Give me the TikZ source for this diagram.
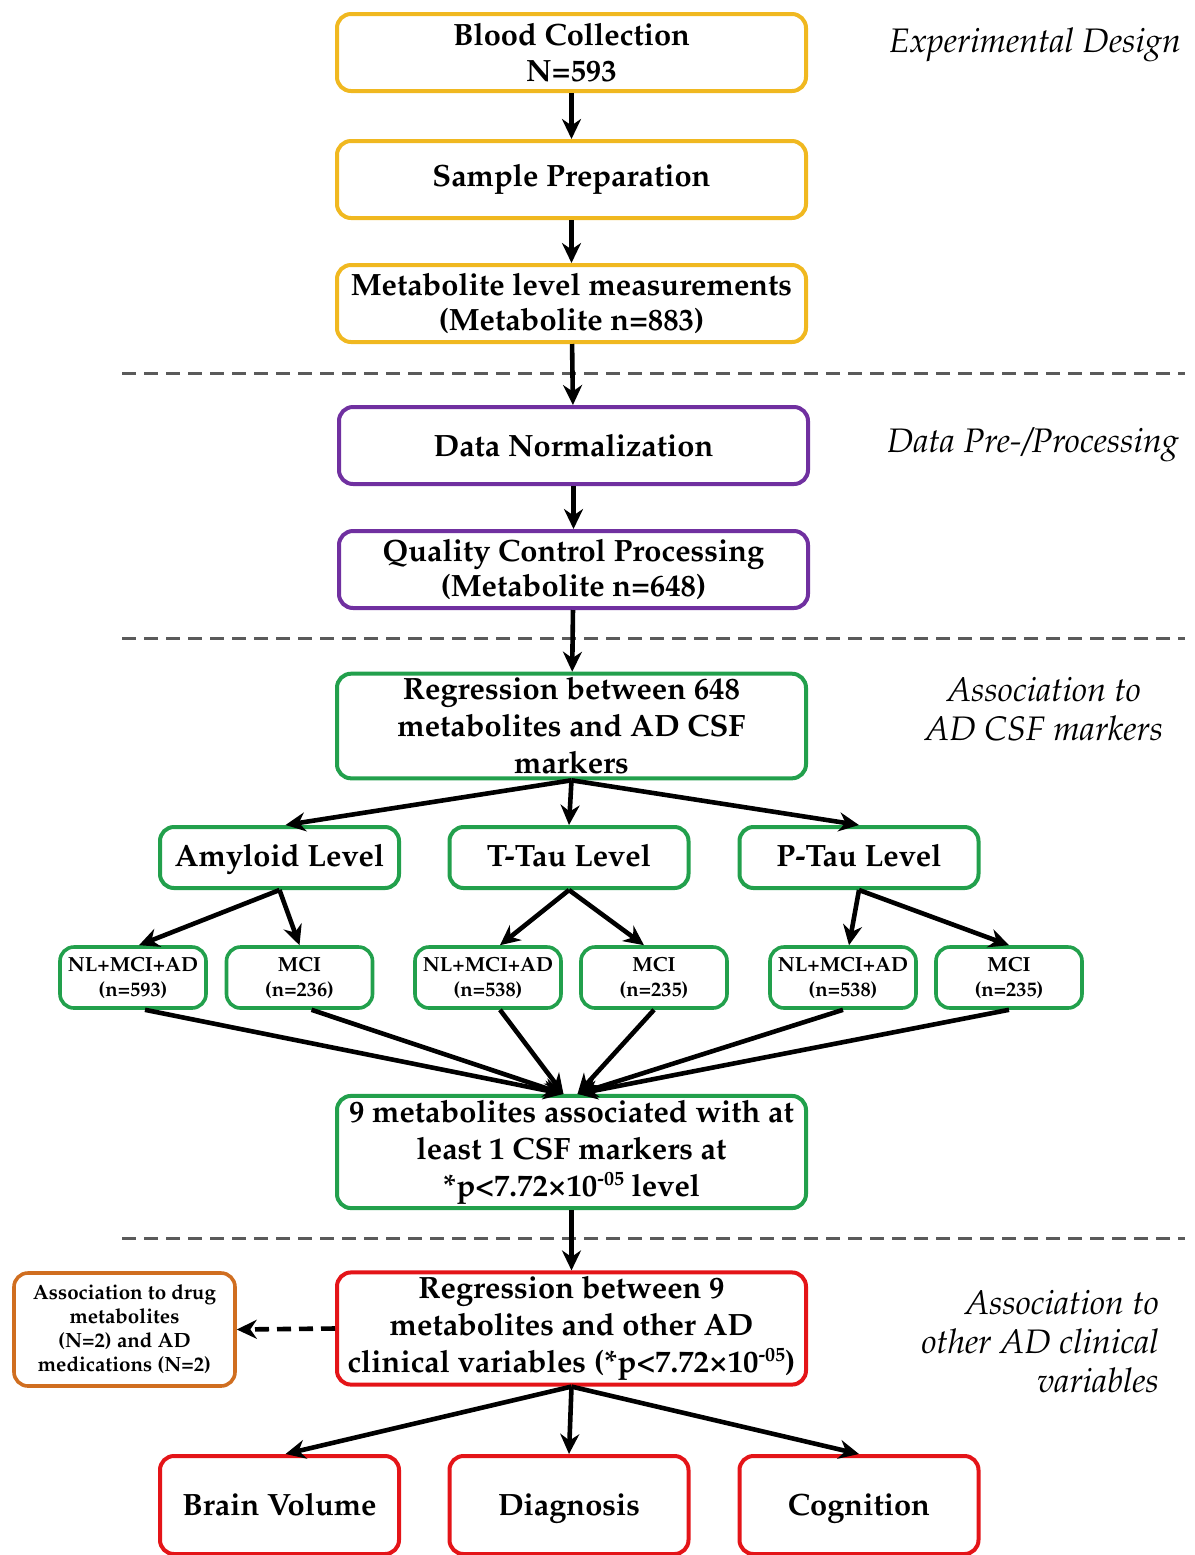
\documentclass[tikz,border=0pt]{standalone}
\usepackage[T1]{fontenc}
\usepackage{textcomp}
\usepackage{mathpazo}
\usepackage{tikz}
\usetikzlibrary{arrows.meta,positioning}
\definecolor{designcol}{RGB}{240,184,32}
\definecolor{preproccol}{RGB}{112,48,160}
\definecolor{csfcol}{RGB}{34,160,76}
\definecolor{clincol}{RGB}{228,20,24}
\definecolor{drugcol}{RGB}{208,110,32}
\definecolor{sepcol}{RGB}{90,90,90}
\newcommand{\pthresh}{*p\textless7.72\texttimes10\raisebox{0.75ex}{\fontsize{10}{10}\selectfont-05}}
\tikzset{%
	box/.style      = {draw, rectangle, rounded corners=7pt, line width=2pt, fill=white, align=center, inner sep=2pt, font=\fontsize{15.4}{17.8}\selectfont\bfseries},
	mainbox/.style  = {box, minimum width=234.5pt, minimum height=38.5pt}, % centre column
	tallbox/.style  = {mainbox, font=\fontsize{15.4}{18.5}\selectfont\bfseries}, % three lines
	levelbox/.style = {box, draw=csfcol, minimum width=119.5pt, minimum height=30.5pt, text height=2.6ex, text depth=.6ex}, % CSF levels
	groupbox/.style = {box, draw=csfcol, line width=1.8pt, minimum width=73pt, minimum height=30.5pt, font=\fontsize{10.2}{12.5}\selectfont\bfseries}, % sub groups
	outbox/.style   = {box, draw=clincol, minimum width=119.5pt, minimum height=49pt, text height=2.8ex, text depth=.6ex}, % outcomes
	phase/.style    = {align=center, font=\fontsize{17}{19.5}\selectfont\itshape}, % right labels
	arrow/.style    = {line width=2.3pt, -{Stealth[length=10pt,width=9.5pt]}},
	sep/.style      = {draw=sepcol, line width=1.5pt, dash pattern=on 7pt off 4pt},
}
\begin{document}
\begin{tikzpicture}[x=0.5pt, y=-0.5pt]
	\useasboundingbox (0,0) rectangle (1195,1555);
	% experimental design
	\node[mainbox, draw=designcol] (blood) at (571.5,52.5) {Blood Collection\\N=593};
	\node[mainbox, draw=designcol] (prep) at (571.5,179.5) {Sample Preparation};
	\node[mainbox, draw=designcol] (meas) at (571.5,303.5) {Metabolite level measurements\\(Metabolite n=883)};
	\draw[sep] (122,373) -- (1185,373);
	% pre-processing
	\node[mainbox, draw=preproccol] (norm) at (573.5,445.5) {Data Normalization};
	\node[mainbox, draw=preproccol] (qc) at (573.5,569.5) {Quality Control Processing\\(Metabolite n=648)};
	\draw[sep] (122,638) -- (1185,638);
	% CSF markers
	\node[tallbox, draw=csfcol, minimum height=52pt] (regcsf) at (571.5,726) {Regression between 648\\metabolites and AD CSF\\markers};
	\node[levelbox] (amy) at (279.5,857.5) {Amyloid Level};
	\node[levelbox] (ttau) at (569,857.5) {T-Tau Level};
	\node[levelbox] (ptau) at (859,857.5) {P-Tau Level};
	\node[groupbox] (amyall) at (133,977.5) {NL+MCI+AD\\(n=593)};
	\node[groupbox] (amymci) at (299.5,977.5) {MCI\\(n=236)};
	\node[groupbox] (ttauall) at (488,977.5) {NL+MCI+AD\\(n=538)};
	\node[groupbox] (ttaumci) at (654,977.5) {MCI\\(n=235)};
	\node[groupbox] (ptauall) at (843,977.5) {NL+MCI+AD\\(n=538)};
	\node[groupbox] (ptaumci) at (1009,977.5) {MCI\\(n=235)};
	\node[tallbox, draw=csfcol, minimum height=53pt] (nine) at (571.5,1152) {9 metabolites associated with at\\least 1 CSF markers at\\\pthresh{} level};
	\draw[sep] (122,1238) -- (1185,1238);
	% clinical variables
	\node[tallbox, draw=clincol, minimum height=55.5pt] (regclin) at (571.5,1328.5) {Regression between 9\\metabolites and other AD\\clinical variables (\pthresh)};
	\node[box, draw=drugcol, line width=1.8pt, minimum width=110.5pt, minimum height=56.5pt, font=\fontsize{10.3}{12}\selectfont\bfseries] (drug) at (124.5,1329.5) {Association to drug\\metabolites\\(N=2) and AD\\medications (N=2)};
	\node[outbox] (brain) at (279.5,1505) {Brain Volume};
	\node[outbox] (diag) at (569,1505) {Diagnosis};
	\node[outbox] (cogn) at (859,1505) {Cognition};
	% phase labels
	\node[phase] (lbldesign) at (1035,45) {Experimental Design};
	\node[phase] (lblproc) at (1033,445) {Data Pre-/Processing};
	\node[phase] (lblcsf) at (1044,709) {Association to\\AD CSF markers};
	\node[phase, align=right, anchor=east] (lblclin) at (1166,1341) {Association to\\other AD clinical\\variables};

	\draw[arrow] (blood) -- (prep);
	\draw[arrow] (prep) -- (meas);
	\draw[arrow] (meas) -- (norm);
	\draw[arrow] (norm) -- (qc);
	\draw[arrow] (qc) -- (regcsf);
	\draw[arrow] (regcsf.south) -- ([xshift=3pt]amy.north);
	\draw[arrow] (regcsf.south) -- (ttau.north);
	\draw[arrow] (regcsf.south) -- (ptau.north);
	\draw[arrow] (amy.south) -- ([xshift=3pt]amyall.north);
	\draw[arrow] (amy.south) -- (amymci.north);
	\draw[arrow] (ttau.south) -- ([xshift=6pt]ttauall.north);
	\draw[arrow] (ttau.south) -- ([xshift=-5pt]ttaumci.north);
	\draw[arrow] (ptau.south) -- ([xshift=3pt]ptauall.north);
	\draw[arrow] (ptau.south) -- (ptaumci.north);
	\foreach \grp in {amyall,amymci,ttauall}
		\draw[arrow] ([xshift=6pt]\grp.south) -- ([xshift=-4pt]nine.north);
	\foreach \grp in {ttaumci,ptauall,ptaumci}
		\draw[arrow] ([xshift=0pt]\grp.south) -- ([xshift=3pt]nine.north);
	\draw[arrow] (nine) -- (regclin);
	\draw[arrow, dash pattern=on 7pt off 4pt] (regclin.west) -- (drug.east);
	\draw[arrow] (regclin.south) -- ([xshift=3pt]brain.north);
	\draw[arrow] (regclin.south) -- (diag.north);
	\draw[arrow] (regclin.south) -- (cogn.north);
\end{tikzpicture}
\end{document}
